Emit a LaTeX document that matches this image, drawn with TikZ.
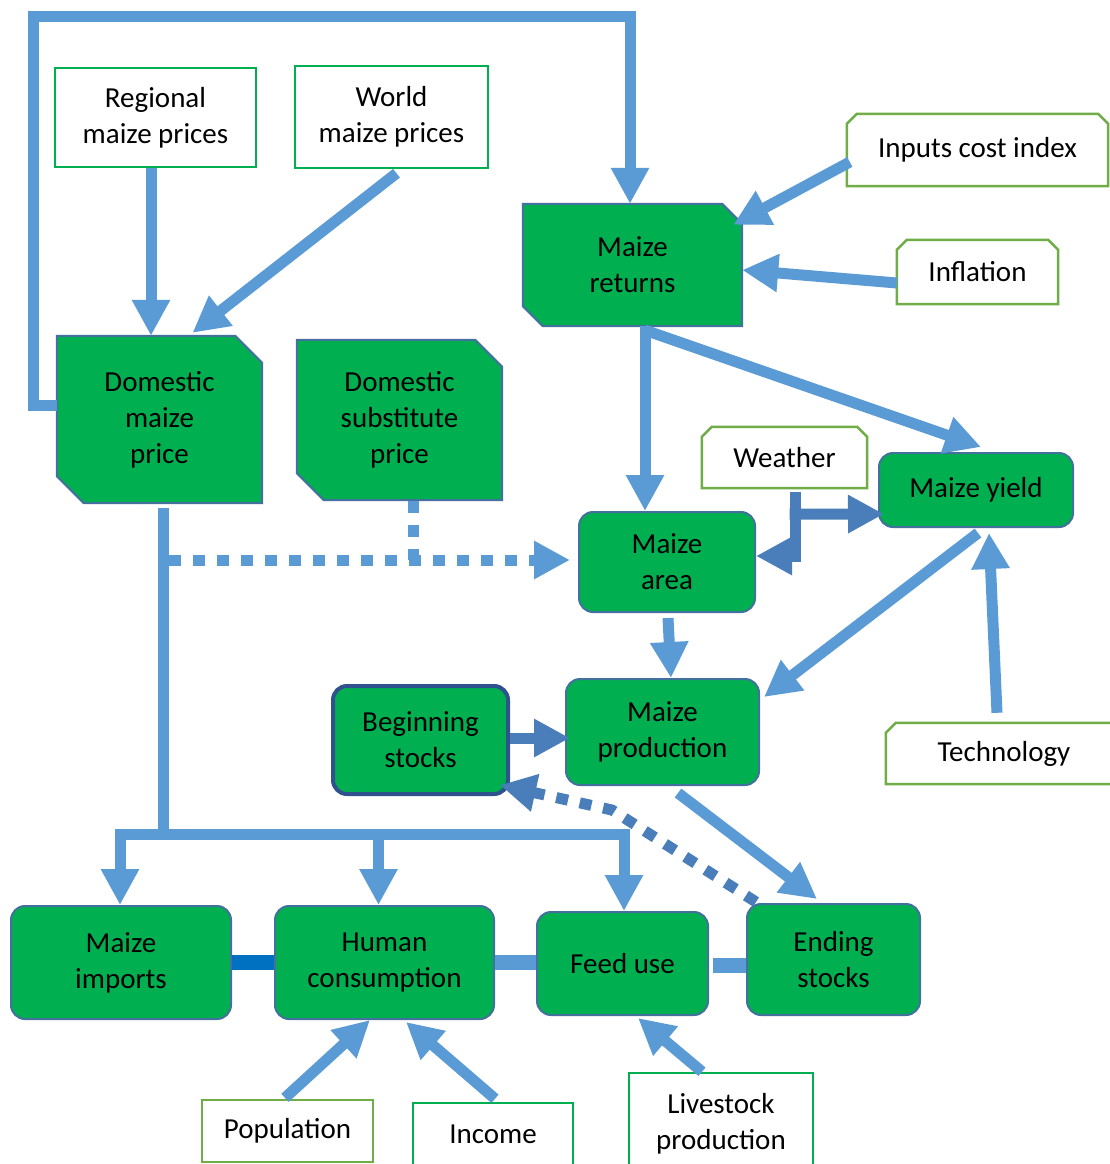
\documentclass[tikz,border=0pt]{standalone}
\usepackage{fontspec}
\setmainfont{Carlito}
\usetikzlibrary{arrows.meta,backgrounds}
\definecolor{fillgreen}{HTML}{00B050}
\definecolor{edgeblue}{HTML}{41719C}
\definecolor{stockedge}{HTML}{2F528F}
\definecolor{linkblue}{HTML}{5B9BD5}
\definecolor{linkdark}{HTML}{4A7EBB}
\definecolor{barblue}{HTML}{0070C0}
\definecolor{olivegreen}{HTML}{70AD47}
\definecolor{framegreen}{HTML}{00B050}

% green stage box with the top-right and bottom-left corners cut off
\newcommand\snipdiag[2]{%
  \draw[draw=edgeblue,line width=2pt,fill=fillgreen]
    (#1.north west) -- ([xshift=-#2pt]#1.north east) -- ([yshift=-#2pt]#1.north east)
    -- (#1.south east) -- ([xshift=#2pt]#1.south west) -- ([yshift=#2pt]#1.south west) -- cycle;}
% white driver box with both top corners cut off
\newcommand\sniptop[2]{%
  \draw[draw=#2,line width=2.5pt,fill=white]
    ([yshift=-10pt]#1.north west) -- ([xshift=10pt]#1.north west) -- ([xshift=-10pt]#1.north east)
    -- ([yshift=-10pt]#1.north east) -- (#1.south east) -- (#1.south west) -- cycle;}

\begin{document}
\begin{tikzpicture}[x=1pt,y=-1pt,
  every node/.style={font=\fontsize{29}{36}\selectfont,align=center,inner sep=0pt},
  sz/.style 2 args={minimum width=#1pt,minimum height=#2pt},
  stage/.style={draw=edgeblue,line width=2pt,fill=fillgreen,rounded corners=14pt},
  stock/.style={stage,draw=stockedge,line width=4pt},
  plainbox/.style={draw=framegreen,line width=2.5pt,fill=white},
  link/.style={draw=linkblue,line width=11pt},
  tip/.style={-{Triangle[length=36pt,width=36pt]}},
  arrow/.style={link,tip},
  darkarrow/.style={draw=linkdark,line width=11pt,tip},
  dotlink/.style={link,dash pattern=on 12pt off 12pt},
  dotdark/.style={draw=linkdark,line width=11pt,dash pattern=on 12pt off 12pt,tip},
  sidebar/.style={draw=linkblue,line width=15pt},
  darkbar/.style={draw=barblue,line width=15pt}]
\useasboundingbox (0,0) rectangle (1110,1164);

% ---- price and input drivers
\node[plainbox,sz={201}{99}] (reg) at (155.5,117.5) {Regional\\maize prices};
\node[plainbox,sz={193}{102}] (world) at (391.5,117) {World\\maize prices};
\node[sz={261}{72}] (inputs) at (977.5,150) {Inputs cost index};
\node[sz={161}{64}] (infl) at (977.5,272) {Inflation};
\node[sz={165}{61}] (weather) at (784.5,457.5) {Weather};
\node[sz={236}{61}] (tech) at (1004,753.5) {Technology};
\node[sz={171}{62}] (pop) at (287.5,1131) {Population};
\node[plainbox,sz={160}{63}] (income) at (493,1134.5) {Income};
\node[plainbox,sz={184}{101}] (live) at (721,1123.5) {Livestock\\production};

% ---- price and return stages
\node[sz={219}{122}] (ret) at (632.5,265) {Maize\\returns};
\node[sz={205}{167}] (dmp) at (159.5,419.5) {Domestic\\maize\\price};
\node[sz={205}{160}] (dsp) at (399.5,420) {Domestic\\substitute\\price};

% ---- supply and use stages
\node[stage,sz={194}{74}] (yield) at (976,490) {Maize yield};
\node[stage,sz={176}{100}] (area) at (667,562) {Maize\\area};
\node[stock,sz={175}{108}] (begin) at (420.5,740) {Beginning\\stocks};
\node[stage,sz={193}{106}] (prod) at (662.5,732) {Maize\\production};
\node[stage,sz={220}{113}] (imports) at (121,962.5) {Maize\\imports};
\node[stage,sz={219}{113}] (human) at (384.5,962.5) {Human\\consumption};
\node[stage,sz={171}{103}] (feed) at (622.5,963.5) {Feed use};
\node[stage,sz={173}{111}] (ending) at (833.5,959.5) {Ending\\stocks};

\begin{pgfonlayer}{background}
  \fill[white] (0,0) rectangle (1110,1164);
  \snipdiag{ret}{20}
  \snipdiag{dmp}{27}
  \snipdiag{dsp}{27}
  \sniptop{inputs}{olivegreen}
  \sniptop{infl}{olivegreen}
  \sniptop{weather}{olivegreen}
  \sniptop{tech}{olivegreen}
  \draw[draw=olivegreen,line width=2.5pt,fill=white] (pop.north west) rectangle (pop.south east);
\end{pgfonlayer}

% ---- connectors
\coordinate (loopL) at (33,17);
\draw[arrow] ([yshift=14pt]dmp.west) -| (loopL) -| ([xshift=-2.5pt]ret.north);
\draw[arrow] ([xshift=-4.5pt]reg.south) -- ([xshift=-8.5pt]dmp.north);
\draw[arrow] ([xshift=5pt,yshift=-4pt]world.south) -- ([xshift=33pt,yshift=3pt]dmp.north);
\draw[arrow] ([xshift=3pt,yshift=-12pt]inputs.west) -- ([xshift=-9pt,yshift=-21pt]ret.north east);
\draw[arrow] ([yshift=-11pt]infl.west) -- ([yshift=-5pt]ret.east);
\draw[arrow] ([xshift=12.5pt]ret.south) -- ([xshift=-22pt]area.north);
\draw[arrow] ([xshift=12.5pt,yshift=-4pt]ret.south) -- ([xshift=5pt,yshift=5pt]yield.north);
\draw[darkarrow] ([xshift=10.5pt,yshift=-4pt]weather.south) |- ([yshift=6pt]area.east);
\draw[darkarrow] ([xshift=5pt,yshift=-26pt]weather.south) -- ([xshift=6pt,yshift=-24pt]yield.west);
\draw[arrow] ([xshift=2pt,yshift=-5pt]yield.south) -- ([xshift=4pt,yshift=35pt]prod.east);
\draw[arrow] ([xshift=-7pt,yshift=10pt]tech.north) -- ([xshift=13pt,yshift=-5pt]yield.south);
\draw[arrow] ([xshift=1pt,yshift=-5pt]area.south) -- ([xshift=8.5pt]prod.north);
\draw[darkarrow] ([yshift=2pt]begin.east) -- ([xshift=5pt,yshift=-6pt]prod.west);
\draw[arrow] ([xshift=15.5pt,yshift=-7pt]prod.south) -- ([xshift=-16.5pt,yshift=4pt]ending.north);
\coordinate (bend) at (612,810);
\draw[dotdark] ([xshift=10pt,yshift=1pt]ending.north west) -- (bend) -- ([xshift=-10pt,yshift=11pt]begin.south east);

% domestic price feeds the use side through one trunk
\coordinate (bar) at (163,834);
\draw[link] ([xshift=3.5pt,yshift=-5pt]dmp.south) -- (bar);
\draw[arrow] (bar) -| ([xshift=-1pt]imports.north);
\draw[arrow] (bar) -| ([xshift=-6pt]human.north);
\draw[arrow] (bar) -| ([xshift=1.5pt]feed.north);

% dotted price links into maize area
\coordinate (dotL) at (169,560);
\draw[dotlink,tip] (dotL) -- ([xshift=-8pt,yshift=2pt]area.west);
\draw[dotlink] ([xshift=13.5pt,yshift=-1pt]dsp.south) -- ([xshift=13.5pt]dsp.south |- dotL);

% side links between use stages
\draw[darkbar] (imports.east) -- (human.west);
\draw[sidebar] (human.east) -- (human.east -| feed.west);
\draw[sidebar] ([xshift=4pt,yshift=-1.5pt]feed.east) -- ([yshift=-1.5pt]feed.east -| ending.west);

% demand drivers
\draw[arrow] ([xshift=-2.5pt,yshift=2pt]pop.north) -- ([xshift=-14.5pt]human.south);
\draw[arrow] ([xshift=2pt,yshift=3pt]income.north) -- ([xshift=21.5pt,yshift=-2pt]human.south);
\draw[arrow] ([xshift=-19pt]live.north) -- ([xshift=15.5pt,yshift=-2pt]feed.south);
\end{tikzpicture}
\end{document}
